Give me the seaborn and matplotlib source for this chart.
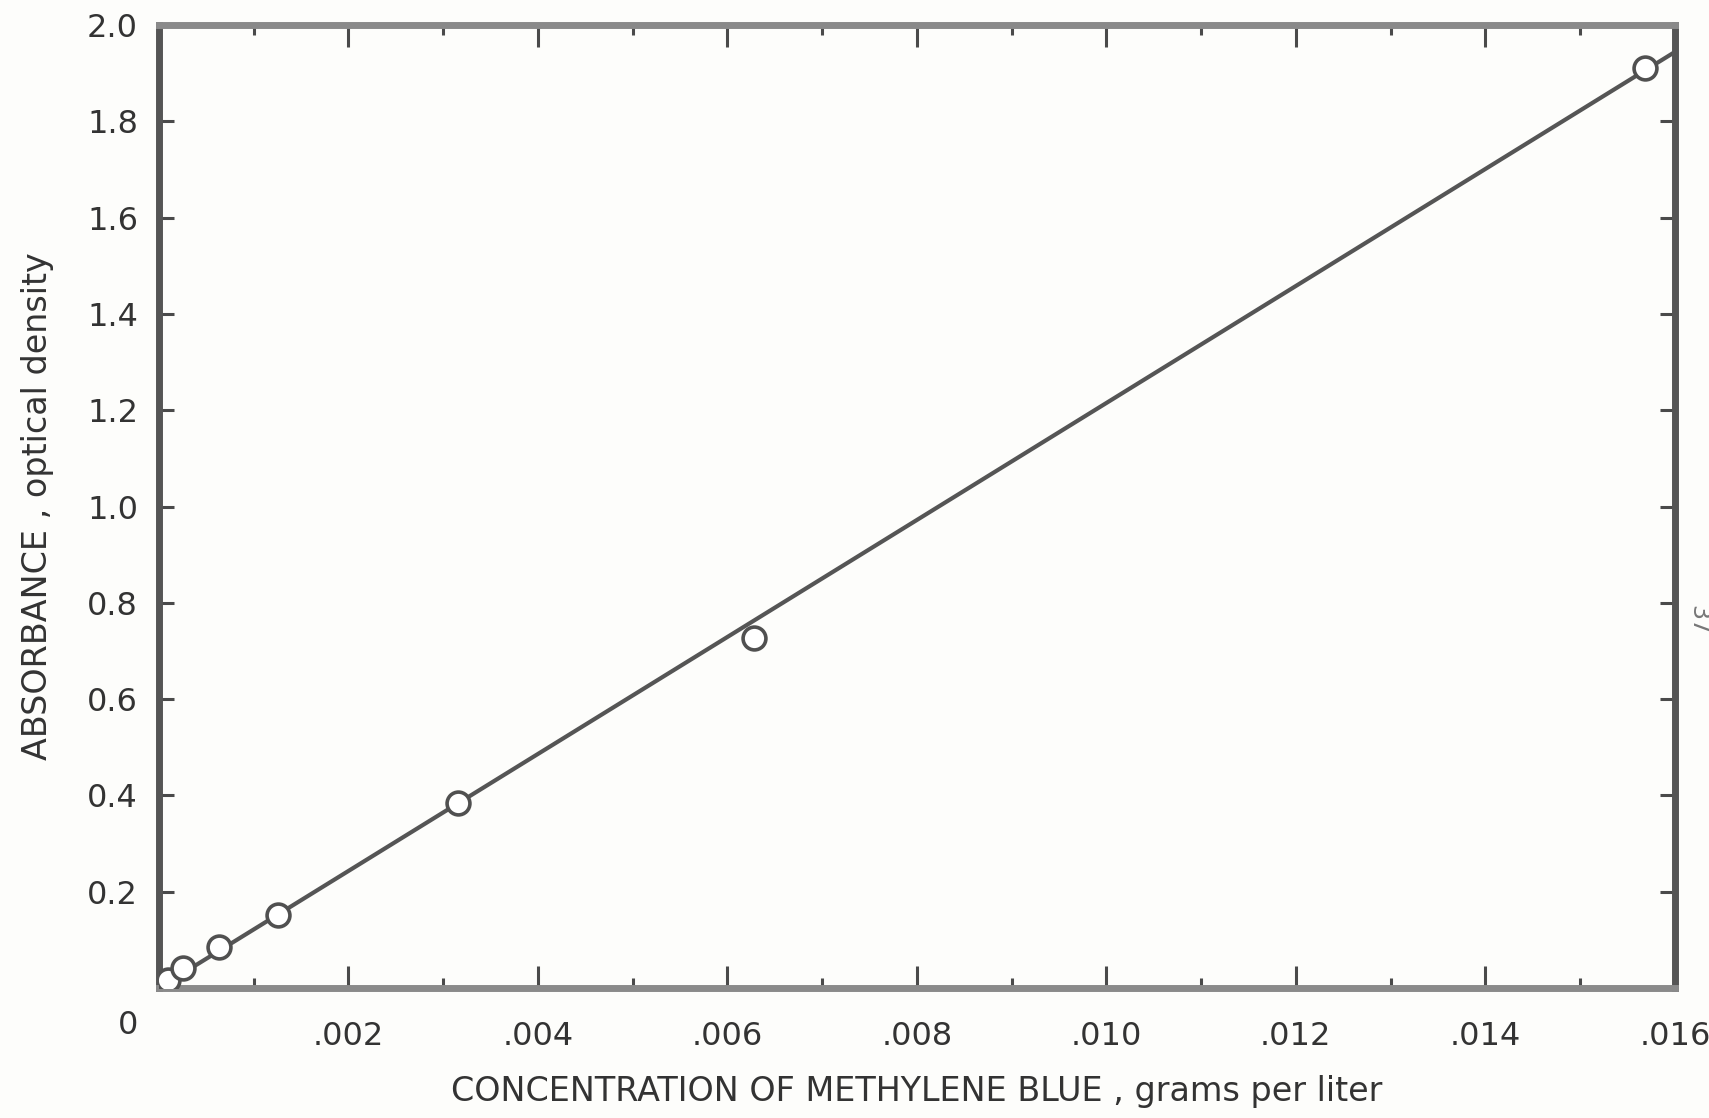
import numpy as np
import pandas as pd
import matplotlib.pyplot as plt
import seaborn as sns

# calibration points (g/L vs absorbance)
conc = [0.000095, 0.000253, 0.000633, 0.00126, 0.00316, 0.00628, 0.01568]
absorbance = [0.017, 0.042, 0.085, 0.152, 0.384, 0.727, 1.911]

# the hand drawn calibration line
fit_conc = [0.0, 0.016]
fit_abs = [0.0, 1.944]

x_ticks = [0.002, 0.004, 0.006, 0.008, 0.010, 0.012, 0.014, 0.016]
x_tick_labels = ['.002', '.004', '.006', '.008', '.010', '.012', '.014', '.016']
x_minor = [0.001, 0.003, 0.005, 0.007, 0.009, 0.011, 0.013, 0.015]
y_ticks = [0.2, 0.4, 0.6, 0.8, 1.0, 1.2, 1.4, 1.6, 1.8, 2.0]
y_tick_labels = ['0.2', '0.4', '0.6', '0.8', '1.0', '1.2', '1.4', '1.6', '1.8', '2.0']

df = pd.DataFrame({'conc': conc, 'absorbance': absorbance})
fit = pd.DataFrame({'conc': fit_conc, 'absorbance': fit_abs})

sns.set_style('white')
plt.rcParams['font.family'] = ['DejaVu Sans']

ink = '#4a4a4a'
text_col = '#333333'

fig = plt.figure(figsize=(17.09, 11.18), dpi=100)
fig.patch.set_facecolor('#fdfdfb')
ax = fig.add_axes([0.093, 0.1163, 0.887, 0.8613])
ax.set_facecolor('#fdfdfb')

sns.lineplot(data=fit, x='conc', y='absorbance', color='#555555', linewidth=3.0, ax=ax, zorder=2)
sns.scatterplot(data=df, x='conc', y='absorbance', s=270, facecolor='white',
                edgecolor='#505050', linewidth=2.6, ax=ax, zorder=3)

ax.set_xlim(0, 0.016)
ax.set_ylim(0, 2.0)
ax.set_xticks(x_ticks)
ax.set_xticklabels(x_tick_labels)
ax.set_xticks(x_minor, minor=True)
ax.set_yticks(y_ticks)
ax.set_yticklabels(y_tick_labels)

ax.tick_params(axis='x', which='major', direction='in', length=16, width=2.2,
               top=True, bottom=True, pad=24, labelsize=23, color=ink, labelcolor=text_col)
ax.tick_params(axis='x', which='minor', direction='in', length=7, width=2.2,
               top=True, bottom=True, color=ink)
ax.tick_params(axis='y', which='major', direction='in', length=11, width=2.2,
               left=True, right=True, pad=15, labelsize=23, color=ink, labelcolor=text_col)

for side in ['left', 'right']:
    ax.spines[side].set_color('#555555')
    ax.spines[side].set_linewidth(5)
for side in ['top', 'bottom']:
    ax.spines[side].set_color('#8a8a8a')
    ax.spines[side].set_linewidth(5)

ax.set_xlabel('CONCENTRATION OF METHYLENE BLUE , grams per liter', fontsize=24,
              color=text_col, labelpad=16)
ax.set_ylabel('ABSORBANCE , optical density', fontsize=24, color=text_col, labelpad=24)

# the lone zero sits in the corner
ax.annotate('0', xy=(0, 0), xytext=(-22, -27), textcoords='offset points',
            ha='center', va='center', fontsize=23, color=text_col, annotation_clip=False)

# page number at the right edge of the scan
fig.text(0.9865, 0.445, '37', rotation=-90, fontsize=17, color='#777777',
         ha='left', va='center')

plt.savefig('out.png', dpi=100)
